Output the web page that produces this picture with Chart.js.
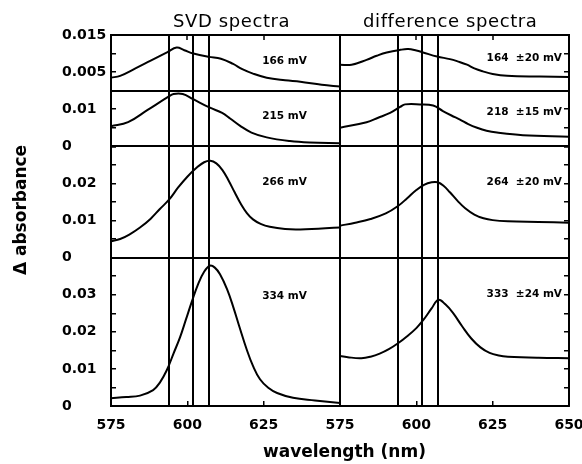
<!DOCTYPE html>
<html><head><meta charset="utf-8">
<script src="https://cdn.jsdelivr.net/npm/chart.js@4/dist/chart.umd.min.js"></script>
<style>
html,body{margin:0;padding:0;background:#fff;}
#wrap{position:relative;width:582px;height:464px;overflow:hidden;background:#fff;}
#c{position:absolute;left:0;top:0;}
.t{position:absolute;white-space:nowrap;color:#000;font-family:'DejaVu Sans',sans-serif;}
</style></head><body>
<div id="wrap">
<canvas id="c" width="582" height="464"></canvas>
<div class="t" style="left:173px;top:12px;font-size:18px;line-height:18px;letter-spacing:0.6px">SVD spectra</div>
<div class="t" style="left:363px;top:12px;font-size:18px;line-height:18px;letter-spacing:0.6px">difference spectra</div>
<div class="t" style="left:263px;top:443px;font-size:17px;line-height:17px;font-weight:bold">wavelength (nm)</div>
<div class="t" style="left:-80px;top:200px;width:200px;height:20px;line-height:20px;text-align:center;font-size:17px;font-weight:bold;transform:rotate(-90deg);">Δ absorbance</div>
</div>
<script>
// ---- data ----
// SVD spectra (left column)
const wlSvd1 = [575, 578, 583, 588, 593.5, 596.5, 599, 602, 607, 611, 615, 618, 621.5, 626, 632, 637, 644, 650];
const absSvd1 = [0.0035, 0.0040, 0.0060, 0.0081, 0.0104, 0.0116, 0.0109, 0.0100, 0.0091, 0.0086, 0.0072, 0.0058, 0.0046, 0.0035, 0.0028, 0.0024, 0.0016, 0.0011];
const wlSvd2 = [575, 580.6, 587, 593.7, 595.5, 598.5, 601.9, 607.4, 611.4, 614, 617.3, 621, 626, 633.6, 640, 650];
const absSvd2 = [0.0054, 0.0065, 0.0098, 0.0133, 0.0141, 0.0141, 0.0127, 0.0104, 0.0090, 0.0075, 0.0055, 0.0037, 0.0024, 0.0014, 0.0010, 0.0008];
const wlSvd3 = [575, 578, 581, 584.5, 588, 591, 594, 597, 600, 603, 605.5, 607.5, 609.5, 611.5, 613.5, 615.5, 617.5, 619.5, 621.5, 624, 627, 632, 637, 650];
const absSvd3 = [0.0044, 0.0050, 0.0062, 0.0081, 0.0105, 0.0131, 0.0156, 0.0189, 0.0218, 0.0242, 0.0257, 0.0261, 0.0254, 0.0236, 0.0208, 0.0176, 0.0145, 0.0120, 0.0103, 0.0091, 0.0083, 0.0077, 0.0076, 0.0081];
const wlSvd4 = [575, 580, 584.5, 588.8, 591, 593.3, 595.5, 597.6, 599.5, 601.5, 603.5, 605.5, 607.4, 609, 610.7, 613, 615, 617, 619.5, 621.5, 623.8, 626.5, 629.4, 634.6, 641.8, 650];
const absSvd4 = [0.0021, 0.0024, 0.0028, 0.0043, 0.0063, 0.0097, 0.0142, 0.0185, 0.0232, 0.0282, 0.0328, 0.0362, 0.0378, 0.0373, 0.0355, 0.0315, 0.0268, 0.0215, 0.0151, 0.0108, 0.0072, 0.0049, 0.0035, 0.0022, 0.0015, 0.0008];
// difference spectra (right column)
const wlDiff1 = [575, 578.8, 583.7, 587, 590.3, 594.7, 597.3, 600, 602.2, 606.8, 611, 613.5, 616.6, 619, 621.8, 625, 629.7, 640.5, 650];
const absDiff1 = [0.0070, 0.0070, 0.0083, 0.0094, 0.0103, 0.0110, 0.0112, 0.0108, 0.0103, 0.0092, 0.0085, 0.0079, 0.0070, 0.0060, 0.0052, 0.0045, 0.0040, 0.0038, 0.0037];
const wlDiff2 = [575, 583.7, 587.5, 591.4, 594.7, 596.3, 601.2, 605.5, 608.7, 611.5, 614.3, 617, 619.9, 623, 626.4, 634.9, 650];
const absDiff2 = [0.0050, 0.0065, 0.0077, 0.0090, 0.0106, 0.0113, 0.0113, 0.0110, 0.0095, 0.0083, 0.0072, 0.0060, 0.0050, 0.0042, 0.0037, 0.0030, 0.0026];
const wlDiff3 = [575, 580, 585, 590, 594, 597, 600, 602.5, 605, 607, 609, 611, 613.5, 616, 619, 622, 625, 630, 640, 650];
const absDiff3 = [0.0086, 0.0094, 0.0104, 0.0119, 0.0139, 0.0160, 0.0182, 0.0196, 0.0203, 0.0203, 0.0193, 0.0176, 0.0153, 0.0133, 0.0116, 0.0106, 0.0101, 0.0098, 0.0096, 0.0094];
const wlDiff4 = [575, 578, 582, 585, 588, 591, 594, 597, 600, 602.3, 605, 607.2, 609.5, 612, 615, 618, 621, 624, 627, 630, 640, 650];
const absDiff4 = [0.0135, 0.0131, 0.0129, 0.0133, 0.0141, 0.0153, 0.0169, 0.0188, 0.0210, 0.0232, 0.0263, 0.0286, 0.0274, 0.0251, 0.0215, 0.0182, 0.0158, 0.0143, 0.0136, 0.0133, 0.0130, 0.0129];

const svdLabels = ['166 mV', '215 mV', '266 mV', '334 mV'];
const diffLabels = ['164  \u00b120 mV', '218  \u00b115 mV', '264  \u00b120 mV', '333  \u00b124 mV'];
const markerWavelengths = [594, 602, 607];
const rowMax = [0.015, 0.015, 0.03, 0.04];
const yTickLabelValues = [[0.015, 0.005], [0.01, 0], [0.02, 0.01, 0], [0.03, 0.02, 0.01, 0]];
const xTickLabelsLeft = [575, 600, 625];
const xTickLabelsRight = [575, 600, 625, 650];

// label anchors (data units)
const svdLabelX = 624.5, diffLabelX = 647.7;
const svdLabelY = [0.0080, 0.0080, 0.0203, 0.0295];
const diffLabelY = [0.0088, 0.0091, 0.0203, 0.0300];

const svdSeries = [[wlSvd1, absSvd1], [wlSvd2, absSvd2], [wlSvd3, absSvd3], [wlSvd4, absSvd4]];
const diffSeries = [[wlDiff1, absDiff1], [wlDiff2, absDiff2], [wlDiff3, absDiff3], [wlDiff4, absDiff4]];

const toPts = (xs, ys) => xs.map((x, i) => ({x: x, y: ys[i]}));
const tickFont = {family: 'DejaVu Sans', size: 14, weight: 'bold'};
const gridOpts = {drawOnChartArea: false, drawTicks: true, tickLength: -5, color: '#000', lineWidth: 1.5};
const borderOpts = {display: true, color: '#000', width: 2};

const datasets = [];
svdSeries.forEach((s, i) => datasets.push({data: toPts(s[0], s[1]), xAxisID: 'xL', yAxisID: 'yL' + (i + 1)}));
diffSeries.forEach((s, i) => datasets.push({data: toPts(s[0], s[1]), xAxisID: 'xR', yAxisID: 'yR' + (i + 1)}));
datasets.forEach(d => Object.assign(d, {borderColor: '#000', borderWidth: 2, pointRadius: 0, fill: false, tension: 0.4}));

const scales = {};
rowMax.forEach((mx, i) => {
  const labels = yTickLabelValues[i];
  scales['yL' + (i + 1)] = {
    type: 'linear', position: 'left', stack: 'L', stackWeight: mx, weight: 4 - i,
    min: 0, max: mx,
    afterFit: s => { s.width = 49; s.paddingTop = 0; s.paddingBottom = 0; },
    ticks: {
      stepSize: 0.005, autoSkip: false, crossAlign: 'far', padding: 0, color: '#000', font: tickFont,
      callback: v => {
        const r = Math.round(v * 1000) / 1000;
        return labels.some(l => Math.abs(l - r) < 1e-9) ? (r === 0 ? '0' : String(r)) : '';
      }
    },
    grid: gridOpts, border: borderOpts
  };
  scales['yR' + (i + 1)] = {
    type: 'linear', position: 'right', stack: 'R', stackWeight: mx, weight: i + 1,
    min: 0, max: mx,
    afterFit: s => { s.width = 13; s.paddingTop = 0; s.paddingBottom = 0; },
    ticks: {stepSize: 0.005, display: false},
    grid: gridOpts, border: borderOpts
  };
});
function xScale(weight, labels) {
  return {
    type: 'linear', position: 'bottom', stack: 'X', stackWeight: 1, weight: weight,
    min: 575, max: 650,
    afterFit: s => { s.height = 58; s.paddingLeft = 0; s.paddingRight = 0; },
    ticks: {stepSize: 25, autoSkip: false, maxRotation: 0, padding: 16, color: '#000', font: tickFont,
      callback: v => labels.includes(v) ? String(v) : ''},
    grid: gridOpts, border: borderOpts
  };
}
scales.xL = xScale(1, xTickLabelsLeft);
scales.xR = xScale(2, xTickLabelsRight);

function seg(ctx, x1, y1, x2, y2) { ctx.beginPath(); ctx.moveTo(x1, y1); ctx.lineTo(x2, y2); ctx.stroke(); }

const framePlugin = {
  id: 'frame',
  afterDatasetsDraw(chart) {
    const {ctx, chartArea: a, scales: sc} = chart;
    ctx.save();
    ctx.strokeStyle = '#000';
    ctx.lineWidth = 2;
    seg(ctx, a.left, a.top, a.right, a.top);
    const xm = sc.xR.left;
    seg(ctx, xm, a.top, xm, a.bottom);
    for (let r = 1; r <= 3; r++) {
      const y = Math.round(sc['yL' + r].bottom);
      seg(ctx, a.left, y, a.right, y);
    }
    [sc.xL, sc.xR].forEach(s => {
      markerWavelengths.forEach(w => {
        const px = Math.round(s.getPixelForValue(w));
        seg(ctx, px, a.top, px, a.bottom);
      });
    });
    ctx.lineWidth = 1.5;
    [sc.xL, sc.xR].forEach(s => {
      s.ticks.forEach(t => {
        if (t.value <= s.min || t.value >= s.max) return;
        const px = Math.round(s.getPixelForValue(t.value));
        seg(ctx, px, a.top, px, a.top + 5);
      });
    });
    ctx.fillStyle = '#000';
    ctx.font = 'bold 10.5px "DejaVu Sans"';
    ctx.textBaseline = 'middle';
    ctx.textAlign = 'left';
    svdLabels.forEach((t, i) => {
      ctx.fillText(t, sc.xL.getPixelForValue(svdLabelX), sc['yL' + (i + 1)].getPixelForValue(svdLabelY[i]));
    });
    ctx.textAlign = 'right';
    diffLabels.forEach((t, i) => {
      ctx.fillText(t, sc.xR.getPixelForValue(diffLabelX), sc['yR' + (i + 1)].getPixelForValue(diffLabelY[i]));
    });
    ctx.restore();
  }
};

new Chart(document.getElementById('c'), {
  type: 'line',
  data: {datasets: datasets},
  options: {
    responsive: false, animation: false, devicePixelRatio: 1,
    layout: {padding: {top: 35, left: 62, right: 0, bottom: 0}},
    plugins: {legend: {display: false}, title: {display: false}, tooltip: {enabled: false}},
    scales: scales
  },
  plugins: [framePlugin]
});
</script>
</body></html>
